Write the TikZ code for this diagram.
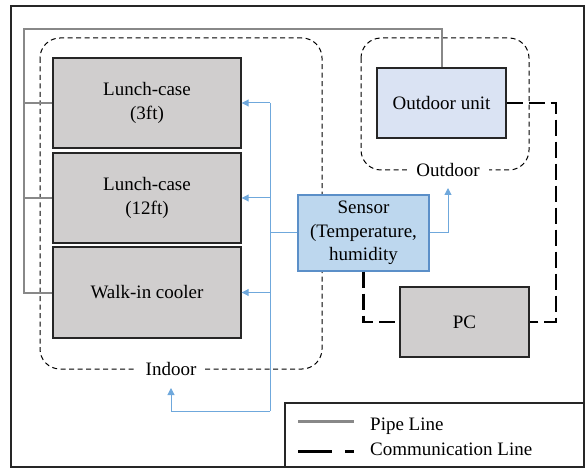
\documentclass[tikz,border=0pt]{standalone}
\usepackage{fontspec}
\setmainfont{Liberation Serif}
\newfontfamily\diagfont{Liberation Serif}
\usetikzlibrary{arrows.meta}
\definecolor{boxgray}{HTML}{D0CECE}
\definecolor{oufill}{HTML}{DAE3F3}
\definecolor{senfill}{HTML}{BDD7EE}
\definecolor{senborder}{HTML}{5B8FC8}
\definecolor{sigblue}{HTML}{6FA8DC}
\definecolor{pipegray}{HTML}{888888}
\tikzset{
  x=1pt, y=-1pt,
  txt/.style={font=\diagfont\fontsize{19}{23.5}\selectfont, align=center},
  unit/.style={txt, draw=black!85, line width=1.4pt, fill=boxgray, inner sep=0pt},
  pipe/.style={draw=pipegray, line width=2pt},
  sig/.style={draw=sigblue, line width=1pt},
  sigarr/.style={sig, -{Triangle[length=7pt,width=7pt]}},
  comm/.style={draw=black, line width=2.6pt, dash pattern=on 16pt off 6pt},
  zone/.style={draw=black, line width=1pt, dash pattern=on 5pt off 3.5pt, rounded corners=20pt},
  zonelabel/.style={txt, fill=white, inner xsep=9pt, inner ysep=2pt},
}
\begin{document}
\begin{tikzpicture}
\useasboundingbox (0,0) rectangle (587,468);
% outer frame
\draw[line width=1.2pt, draw=black!85] (11,6) rectangle (584,467);
% zones
\draw[zone] (40,38) rectangle (322,369);
\draw[zone] (361,38) rectangle (529,170);
% boxes
\node[unit, minimum width=188pt, minimum height=90pt] (lc3) at (147,103) {Lunch-case\\(3ft)};
\node[unit, minimum width=188pt, minimum height=90pt] (lc12) at (147,198) {Lunch-case\\(12ft)};
\node[unit, minimum width=188pt, minimum height=91pt] (wic) at (147,292.5) {Walk-in cooler};
\node[unit, fill=oufill, minimum width=129pt, minimum height=70pt] (ou) at (441.5,103) {Outdoor unit};
\node[unit, fill=senfill, draw=senborder, line width=1.2pt, minimum width=131pt, minimum height=76pt] (sensor) at (363.5,233) {Sensor\\(Temperature,\\humidity};
\node[unit, minimum width=129pt, minimum height=70pt] (pc) at (464.5,322) {PC};
% zone labels
\node[zonelabel] (indoor) at (171,369) {Indoor};
\node[zonelabel] (outdoor) at (448,170) {Outdoor};
% pipe line
\coordinate (pipetl) at (24,29);
\draw[pipe] (ou.north) |- (pipetl) |- (wic.west);
\draw[pipe] (pipetl |- lc3.west) -- (lc3.west);
\draw[pipe] (pipetl |- lc12.west) -- (lc12.west);
% signal lines
\coordinate (bus) at (270,103);
\coordinate (busb) at (270,411);
\coordinate (indtip) at (171,388);
\coordinate (outtip) at (448,188);
\draw[sigarr] (bus |- lc3.east) -- (lc3.east);
\draw[sigarr] (bus |- lc12.east) -- (lc12.east);
\draw[sigarr] (bus |- wic.east) -- (wic.east);
\draw[sig] (bus) -- (busb);
\draw[sig] (sensor.west) -- (sensor.west -| bus);
\draw[sigarr] (busb) -| (indtip);
\draw[sigarr] (sensor.east) -| (outtip);
% communication line
\coordinate (commr) at (556,322);
\draw[comm] (ou.east) -| (commr) -- (pc.east);
\draw[comm] (sensor.south) |- (pc.west);
% legend
\draw[line width=1.2pt, draw=black!85] (285,403) rectangle (584,467);
\coordinate (lg1a) at (298,421);
\coordinate (lg1b) at (354,421);
\coordinate (lg2a) at (298,451);
\coordinate (lg2b) at (354,451);
\draw[pipe, line width=3pt] (lg1a) -- (lg1b);
\draw[comm, line width=3pt, dash pattern=on 34pt off 13pt] (lg2a) -- (lg2b);
\node[txt, anchor=base west, inner sep=0pt] (lgt1) at (370,430) {Pipe Line};
\node[txt, anchor=base west, inner sep=0pt] (lgt2) at (370,455) {Communication Line};
\end{tikzpicture}
\end{document}
